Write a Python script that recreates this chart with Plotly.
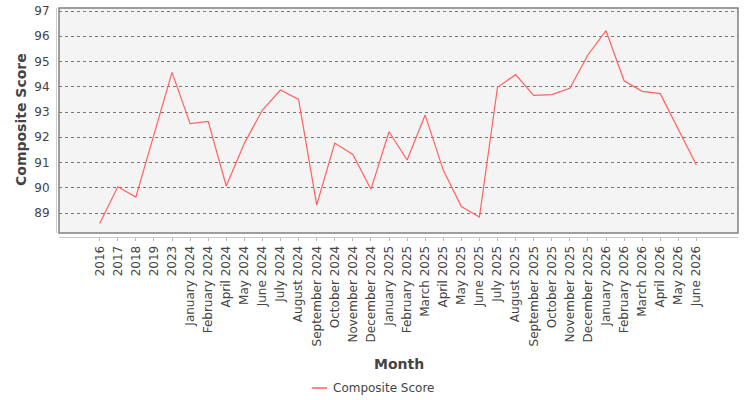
import plotly.graph_objects as go

months = ["2016", "2017", "2018", "2019", "2023", "January 2024", "February 2024",
          "April 2024", "May 2024", "June 2024", "July 2024", "August 2024",
          "September 2024", "October 2024", "November 2024", "December 2024",
          "January 2025", "February 2025", "March 2025", "April 2025", "May 2025",
          "June 2025", "July 2025", "August 2025", "September 2025", "October 2025",
          "November 2025", "December 2025", "January 2026", "February 2026",
          "March 2026", "April 2026", "May 2026", "June 2026"]
composite_score = [88.59, 90.04, 89.63, 92.1, 94.57, 92.54, 92.63, 90.07, 91.76,
                   93.08, 93.87, 93.50, 89.32, 91.77, 91.32, 89.94, 92.22, 91.10,
                   92.88, 90.70, 89.26, 88.84, 93.98, 94.48, 93.66, 93.69, 93.94,
                   95.26, 96.22, 94.24, 93.82, 93.73, 92.31, 90.90]
y_ticks = [89, 90, 91, 92, 93, 94, 95, 96, 97]
series_name = "Composite Score"
line_color = "#ff6161"

FONT = "DejaVu Sans"
W, H = 750, 400

fig = go.Figure()
fig.add_trace(go.Scatter(
    x=months, y=composite_score, mode="lines", name=series_name,
    line=dict(color=line_color, width=1.2), showlegend=False,
))

legend_y = (H - 388) / H

fig.update_layout(
    width=W, height=H,
    margin=dict(l=0, r=0, t=0, b=0),
    paper_bgcolor="white",
    plot_bgcolor="#f4f4f4",
    font=dict(family=FONT, size=12, color="#444"),
    xaxis=dict(
        type="category", domain=[59 / W, 738 / W], range=[-2.25, 35.3],
        anchor="free", position=(H - 237) / H,
        tickmode="array", tickvals=months, ticktext=months,
        tickangle=-90, ticks="outside", ticklen=3, tickcolor="#bbb",
        showline=True, linecolor="#ccc", linewidth=1,
        showgrid=False, zeroline=False, automargin=False,
        tickfont=dict(size=12, color="#444"),
    ),
    yaxis=dict(
        domain=[(H - 233) / H, (H - 8) / H], range=[88.21, 97.12],
        anchor="free", position=56 / W,
        tickmode="array", tickvals=y_ticks,
        ticks="", showline=True, linecolor="#ccc", linewidth=1,
        showgrid=True, gridcolor="#777", griddash="dot", gridwidth=1,
        zeroline=False, automargin=False, ticklabelstandoff=4,
        tickfont=dict(size=12, color="#444"),
    ),
    shapes=[
        dict(type="rect", xref="x domain", yref="y domain", x0=0, x1=1, y0=0, y1=1,
             line=dict(color="#808080", width=1.5), layer="above"),
        dict(type="line", xref="paper", yref="paper", x0=312 / W, x1=327 / W,
             y0=legend_y, y1=legend_y, line=dict(color=line_color, width=1.5)),
    ],
    annotations=[
        dict(text="<b>Composite Score</b>", x=21 / W, y=(H - 120) / H, xref="paper", yref="paper",
             textangle=-90, showarrow=False, font=dict(size=14, color="#444"),
             xanchor="center", yanchor="middle"),
        dict(text="<b>Month</b>", x=398.5 / W, y=(H - 364) / H, xref="paper", yref="paper",
             showarrow=False, font=dict(size=14, color="#444"),
             xanchor="center", yanchor="middle"),
        dict(text=series_name, x=331 / W, y=legend_y, xref="paper", yref="paper",
             showarrow=False, font=dict(size=12, color="#444"),
             xanchor="left", yanchor="middle"),
    ],
)

fig.write_html("out.html")
